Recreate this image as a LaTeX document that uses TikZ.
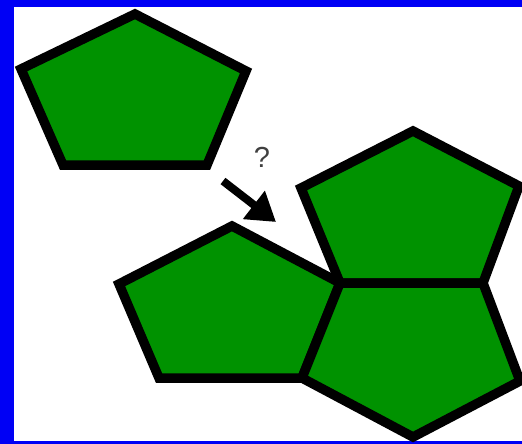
\documentclass[tikz,border=0pt]{standalone}
\usepackage{fontspec}
\usepackage{xcolor}
\usepackage{tikz}
\usetikzlibrary{arrows.meta}
\newfontfamily\fuentesans{Liberation Sans}
\definecolor{verdepieza}{RGB}{0,146,0}
\definecolor{azulmarco}{RGB}{0,0,245}
\newcommand{\pentagono}[5]{%
  \draw[pieza] #1 -- #2 -- #3 -- #4 -- #5 -- cycle;%
}

\begin{document}
\begin{tikzpicture}[x=1pt, y=-1pt,
    pieza/.style={fill=verdepieza, draw=black, line width=9.5pt, line join=miter},
    flecha/.style={draw=black, line width=8pt, -{Triangle[length=28pt, width=34pt]}}]
        \useasboundingbox (0,0) rectangle (522,444);
        \clip (0,0) rectangle (522,444);
        % marco
        \fill[azulmarco] (0,0) rectangle (522,444);
        \fill[white] (14,7) rectangle (522,441);
        % piezas
        \pentagono{(135,14)}{(246,71)}{(207,165)}{(63,165)}{(21,69)}
        \pentagono{(232,226)}{(340,283)}{(302,378)}{(159,378)}{(119,284)}
        \pentagono{(413,131)}{(519,186)}{(483,283)}{(340,283)}{(301,188)}
        \pentagono{(340,283)}{(483,283)}{(520,381)}{(413,437)}{(302,378)}
        % pregunta
        \coordinate (desde) at (223,181);
        \coordinate (hasta) at (276,222);
        \draw[flecha] (desde) -- (hasta);
        \node[font=\fuentesans\fontsize{29}{29}\selectfont, text=black!75, inner sep=0pt] (pregunta) at (262,157) {?};
      \end{tikzpicture}
\end{document}
